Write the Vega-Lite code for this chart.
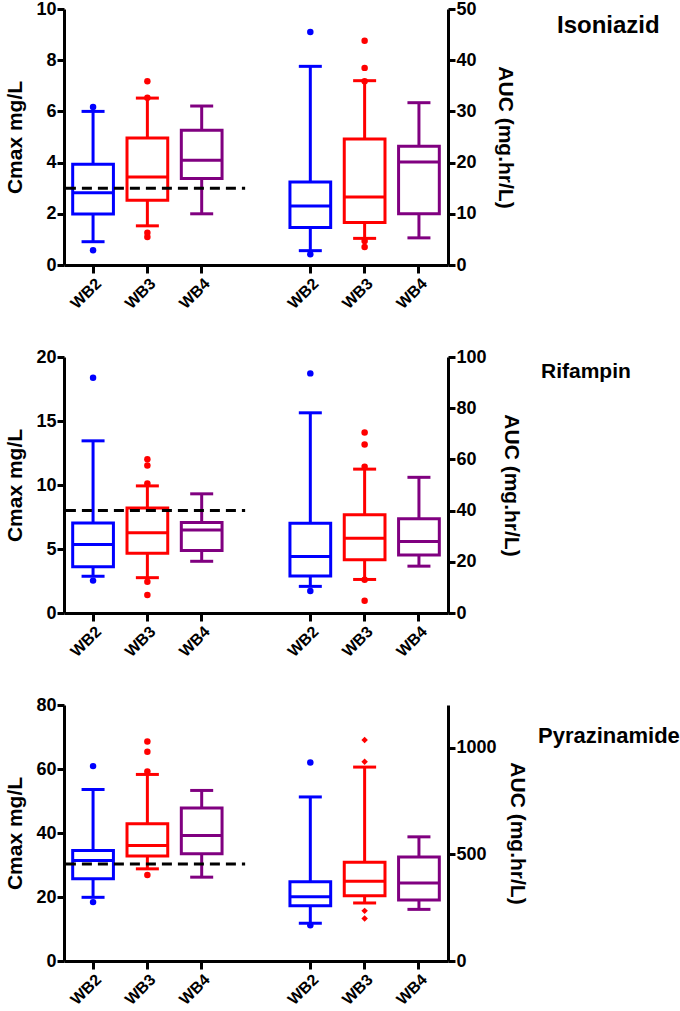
{
  "$schema": "https://vega.github.io/schema/vega-lite/v6.json",
  "padding": {"left": 4, "top": 0, "right": 0, "bottom": 0},
  "background": "white",
  "bounds": "flush",
  "spacing": 92,
  "datasets": {
    "main": [
      {"drug": "Isoniazid", "measure": "Cmax", "group": "WB2", "kind": "box", "lower": 0.91, "q1": 1.99, "median": 2.82, "q3": 3.94, "upper": 6.0},
      {"drug": "Isoniazid", "measure": "Cmax", "group": "WB3", "kind": "box", "lower": 1.53, "q1": 2.53, "median": 3.44, "q3": 4.96, "upper": 6.52},
      {"drug": "Isoniazid", "measure": "Cmax", "group": "WB4", "kind": "box", "lower": 2.0, "q1": 3.38, "median": 4.09, "q3": 5.26, "upper": 6.21},
      {"drug": "Isoniazid", "measure": "AUC", "group": "WB2", "kind": "box", "lower": 2.8, "q1": 7.3, "median": 11.5, "q3": 16.2, "upper": 38.8},
      {"drug": "Isoniazid", "measure": "AUC", "group": "WB3", "kind": "box", "lower": 5.2, "q1": 8.3, "median": 13.3, "q3": 24.6, "upper": 36.0},
      {"drug": "Isoniazid", "measure": "AUC", "group": "WB4", "kind": "box", "lower": 5.3, "q1": 10.0, "median": 20.1, "q3": 23.2, "upper": 31.7},
      {"drug": "Rifampin", "measure": "Cmax", "group": "WB2", "kind": "box", "lower": 2.87, "q1": 3.62, "median": 5.35, "q3": 7.04, "upper": 13.45},
      {"drug": "Rifampin", "measure": "Cmax", "group": "WB3", "kind": "box", "lower": 2.76, "q1": 4.67, "median": 6.26, "q3": 8.21, "upper": 9.93},
      {"drug": "Rifampin", "measure": "Cmax", "group": "WB4", "kind": "box", "lower": 4.04, "q1": 4.88, "median": 6.49, "q3": 7.07, "upper": 9.31},
      {"drug": "Rifampin", "measure": "AUC", "group": "WB2", "kind": "box", "lower": 10.4, "q1": 14.5, "median": 22.1, "q3": 35.1, "upper": 78.2},
      {"drug": "Rifampin", "measure": "AUC", "group": "WB3", "kind": "box", "lower": 13.1, "q1": 20.8, "median": 29.2, "q3": 38.4, "upper": 56.2},
      {"drug": "Rifampin", "measure": "AUC", "group": "WB4", "kind": "box", "lower": 18.3, "q1": 22.7, "median": 27.9, "q3": 36.8, "upper": 53.0},
      {"drug": "Pyrazinamide", "measure": "Cmax", "group": "WB2", "kind": "box", "lower": 19.9, "q1": 25.7, "median": 31.4, "q3": 34.5, "upper": 53.6},
      {"drug": "Pyrazinamide", "measure": "Cmax", "group": "WB3", "kind": "box", "lower": 28.8, "q1": 32.8, "median": 36.1, "q3": 42.9, "upper": 58.3},
      {"drug": "Pyrazinamide", "measure": "Cmax", "group": "WB4", "kind": "box", "lower": 26.2, "q1": 33.5, "median": 39.2, "q3": 47.8, "upper": 53.3},
      {"drug": "Pyrazinamide", "measure": "AUC", "group": "WB2", "kind": "box", "lower": 177, "q1": 259, "median": 301, "q3": 372, "upper": 769},
      {"drug": "Pyrazinamide", "measure": "AUC", "group": "WB3", "kind": "box", "lower": 272, "q1": 306, "median": 374, "q3": 463, "upper": 909},
      {"drug": "Pyrazinamide", "measure": "AUC", "group": "WB4", "kind": "box", "lower": 242, "q1": 286, "median": 366, "q3": 487, "upper": 582},
      {"drug": "Isoniazid", "measure": "Cmax", "group": "WB2", "kind": "outlier", "value": 6.17},
      {"drug": "Isoniazid", "measure": "Cmax", "group": "WB2", "kind": "outlier", "value": 0.58},
      {"drug": "Isoniazid", "measure": "Cmax", "group": "WB3", "kind": "outlier", "value": 7.18},
      {"drug": "Isoniazid", "measure": "Cmax", "group": "WB3", "kind": "outlier", "value": 6.53},
      {"drug": "Isoniazid", "measure": "Cmax", "group": "WB3", "kind": "outlier", "value": 1.26},
      {"drug": "Isoniazid", "measure": "Cmax", "group": "WB3", "kind": "outlier", "value": 1.09},
      {"drug": "Isoniazid", "measure": "AUC", "group": "WB2", "kind": "outlier", "value": 45.5},
      {"drug": "Isoniazid", "measure": "AUC", "group": "WB2", "kind": "outlier", "value": 2.1},
      {"drug": "Isoniazid", "measure": "AUC", "group": "WB3", "kind": "outlier", "value": 43.8},
      {"drug": "Isoniazid", "measure": "AUC", "group": "WB3", "kind": "outlier", "value": 38.5},
      {"drug": "Isoniazid", "measure": "AUC", "group": "WB3", "kind": "outlier", "value": 35.9},
      {"drug": "Isoniazid", "measure": "AUC", "group": "WB3", "kind": "outlier", "value": 4.7},
      {"drug": "Isoniazid", "measure": "AUC", "group": "WB3", "kind": "outlier", "value": 3.5},
      {"drug": "Rifampin", "measure": "Cmax", "group": "WB2", "kind": "outlier", "value": 18.38},
      {"drug": "Rifampin", "measure": "Cmax", "group": "WB2", "kind": "outlier", "value": 2.53},
      {"drug": "Rifampin", "measure": "Cmax", "group": "WB3", "kind": "outlier", "value": 12.02},
      {"drug": "Rifampin", "measure": "Cmax", "group": "WB3", "kind": "outlier", "value": 11.53},
      {"drug": "Rifampin", "measure": "Cmax", "group": "WB3", "kind": "outlier", "value": 10.12},
      {"drug": "Rifampin", "measure": "Cmax", "group": "WB3", "kind": "outlier", "value": 2.45},
      {"drug": "Rifampin", "measure": "Cmax", "group": "WB3", "kind": "outlier", "value": 1.41},
      {"drug": "Rifampin", "measure": "AUC", "group": "WB2", "kind": "outlier", "value": 93.6},
      {"drug": "Rifampin", "measure": "AUC", "group": "WB2", "kind": "outlier", "value": 8.6},
      {"drug": "Rifampin", "measure": "AUC", "group": "WB3", "kind": "outlier", "value": 70.5},
      {"drug": "Rifampin", "measure": "AUC", "group": "WB3", "kind": "outlier", "value": 65.8},
      {"drug": "Rifampin", "measure": "AUC", "group": "WB3", "kind": "outlier", "value": 57.1},
      {"drug": "Rifampin", "measure": "AUC", "group": "WB3", "kind": "outlier", "value": 13.0},
      {"drug": "Rifampin", "measure": "AUC", "group": "WB3", "kind": "outlier", "value": 4.8},
      {"drug": "Pyrazinamide", "measure": "Cmax", "group": "WB2", "kind": "outlier", "value": 60.9},
      {"drug": "Pyrazinamide", "measure": "Cmax", "group": "WB2", "kind": "outlier", "value": 18.4},
      {"drug": "Pyrazinamide", "measure": "Cmax", "group": "WB3", "kind": "outlier", "value": 68.6},
      {"drug": "Pyrazinamide", "measure": "Cmax", "group": "WB3", "kind": "outlier", "value": 65.4},
      {"drug": "Pyrazinamide", "measure": "Cmax", "group": "WB3", "kind": "outlier", "value": 59.2},
      {"drug": "Pyrazinamide", "measure": "Cmax", "group": "WB3", "kind": "outlier", "value": 26.9},
      {"drug": "Pyrazinamide", "measure": "AUC", "group": "WB2", "kind": "outlier", "value": 931},
      {"drug": "Pyrazinamide", "measure": "AUC", "group": "WB2", "kind": "outlier", "value": 168},
      {"drug": "Pyrazinamide", "measure": "AUC", "group": "WB3", "kind": "outlier", "value": 1036},
      {"drug": "Pyrazinamide", "measure": "AUC", "group": "WB3", "kind": "outlier", "value": 934},
      {"drug": "Pyrazinamide", "measure": "AUC", "group": "WB3", "kind": "outlier", "value": 235},
      {"drug": "Pyrazinamide", "measure": "AUC", "group": "WB3", "kind": "outlier", "value": 199}
    ],
    "refs": [
      {"drug": "Isoniazid", "value": 3},
      {"drug": "Rifampin", "value": 8},
      {"drug": "Pyrazinamide", "value": 30.3}
    ]
  },
  "vconcat": [
    {
      "width": 384, "height": 256,
      "title": {"text": "Isoniazid", "anchor": "start", "frame": "group", "offset": 0, "baseline": "middle", "dx": 493, "dy": 50, "fontSize": 24},
      "data": {"name": "main"},
      "transform": [{"filter": "datum.drug == 'Isoniazid'"}, {"calculate": "datum.measure + ' ' + datum.group", "as": "slot"}],
      "encoding": {
        "x": {"field": "slot", "type": "nominal",
          "scale": {"type": "band", "domain": ["Cmax WB2", "Cmax WB3", "Cmax WB4", "gap", "AUC WB2", "AUC WB3", "AUC WB4"], "paddingInner": 0, "paddingOuter": 0.035},
          "axis": {"values": ["Cmax WB2", "Cmax WB3", "Cmax WB4", "AUC WB2", "AUC WB3", "AUC WB4"], "labelExpr": "split(datum.value, ' ')[1]", "labelAngle": -45, "labelFontSize": 16, "tickSize": 8, "labelPadding": 2, "title": null}}
      },
      "layer": [
        {
          "transform": [{"filter": "datum.measure == 'Cmax'"}],
          "encoding": {"color": {"field": "group", "type": "nominal", "scale": {"domain": ["WB2", "WB3", "WB4"], "range": ["#0000FF", "#FF0000", "#800080"]}, "legend": null}},
          "layer": [
            {"mark": {"type": "rule", "strokeWidth": 3}, "transform": [{"filter": "datum.kind == 'box'"}],
             "encoding": {"y": {"field": "lower", "type": "quantitative", "title": "Cmax mg/L", "scale": {"domain": [0, 10], "nice": false}, "axis": {"orient": "left", "values": [0, 2, 4, 6, 8, 10]}}, "y2": {"field": "q1"}}},
            {"mark": {"type": "rule", "strokeWidth": 3}, "transform": [{"filter": "datum.kind == 'box'"}],
             "encoding": {"y": {"field": "q3", "type": "quantitative", "title": "Cmax mg/L"}, "y2": {"field": "upper"}}},
            {"mark": {"type": "bar", "filled": false, "strokeWidth": 3, "width": {"band": 0.75}}, "transform": [{"filter": "datum.kind == 'box'"}],
             "encoding": {"y": {"field": "q1", "type": "quantitative", "title": "Cmax mg/L"}, "y2": {"field": "q3"}}},
            {"mark": {"type": "tick", "thickness": 3, "size": 41, "opacity": 1}, "transform": [{"filter": "datum.kind == 'box'"}],
             "encoding": {"y": {"field": "median", "type": "quantitative", "title": "Cmax mg/L"}}},
            {"mark": {"type": "tick", "thickness": 3, "size": 23, "opacity": 1}, "transform": [{"filter": "datum.kind == 'box'"}],
             "encoding": {"y": {"field": "upper", "type": "quantitative", "title": "Cmax mg/L"}}},
            {"mark": {"type": "tick", "thickness": 3, "size": 23, "opacity": 1}, "transform": [{"filter": "datum.kind == 'box'"}],
             "encoding": {"y": {"field": "lower", "type": "quantitative", "title": "Cmax mg/L"}}},
            {"mark": {"type": "point", "filled": true, "size": 42, "opacity": 1}, "transform": [{"filter": "datum.kind == 'outlier'"}],
             "encoding": {"y": {"field": "value", "type": "quantitative", "title": "Cmax mg/L"}}},
            {"data": {"name": "refs"}, "transform": [{"filter": "datum.drug == 'Isoniazid'"}],
             "mark": {"type": "rule", "strokeWidth": 3, "strokeDash": [10, 6], "color": "black"},
             "encoding": {"x": {"datum": "Cmax WB2", "bandPosition": 0}, "x2": {"datum": "gap", "bandPosition": 0.3}, "y": {"field": "value", "type": "quantitative", "title": "Cmax mg/L"}, "color": {"value": "black"}}}
          ]
        },
        {
          "transform": [{"filter": "datum.measure == 'AUC'"}],
          "encoding": {"color": {"field": "group", "type": "nominal", "scale": {"domain": ["WB2", "WB3", "WB4"], "range": ["#0000FF", "#FF0000", "#800080"]}, "legend": null}},
          "layer": [
            {"mark": {"type": "rule", "strokeWidth": 3}, "transform": [{"filter": "datum.kind == 'box'"}],
             "encoding": {"y": {"field": "lower", "type": "quantitative", "title": "AUC (mg.hr/L)", "scale": {"domain": [0, 50], "nice": false}, "axis": {"orient": "right", "values": [0, 10, 20, 30, 40, 50], "titlePadding": 18}}, "y2": {"field": "q1"}}},
            {"mark": {"type": "rule", "strokeWidth": 3}, "transform": [{"filter": "datum.kind == 'box'"}],
             "encoding": {"y": {"field": "q3", "type": "quantitative", "title": "AUC (mg.hr/L)"}, "y2": {"field": "upper"}}},
            {"mark": {"type": "bar", "filled": false, "strokeWidth": 3, "width": {"band": 0.75}}, "transform": [{"filter": "datum.kind == 'box'"}],
             "encoding": {"y": {"field": "q1", "type": "quantitative", "title": "AUC (mg.hr/L)"}, "y2": {"field": "q3"}}},
            {"mark": {"type": "tick", "thickness": 3, "size": 41, "opacity": 1}, "transform": [{"filter": "datum.kind == 'box'"}],
             "encoding": {"y": {"field": "median", "type": "quantitative", "title": "AUC (mg.hr/L)"}}},
            {"mark": {"type": "tick", "thickness": 3, "size": 23, "opacity": 1}, "transform": [{"filter": "datum.kind == 'box'"}],
             "encoding": {"y": {"field": "upper", "type": "quantitative", "title": "AUC (mg.hr/L)"}}},
            {"mark": {"type": "tick", "thickness": 3, "size": 23, "opacity": 1}, "transform": [{"filter": "datum.kind == 'box'"}],
             "encoding": {"y": {"field": "lower", "type": "quantitative", "title": "AUC (mg.hr/L)"}}},
            {"mark": {"type": "point", "filled": true, "size": 42, "opacity": 1}, "transform": [{"filter": "datum.kind == 'outlier'"}],
             "encoding": {"y": {"field": "value", "type": "quantitative", "title": "AUC (mg.hr/L)"}}}
          ]
        }
      ],
      "resolve": {"scale": {"y": "independent"}, "axis": {"y": "independent"}}
    },
    {
      "width": 384, "height": 256,
      "title": {"text": "Rifampin", "anchor": "start", "frame": "group", "offset": 0, "baseline": "middle", "dx": 477, "dy": 45, "fontSize": 21},
      "data": {"name": "main"},
      "transform": [{"filter": "datum.drug == 'Rifampin'"}, {"calculate": "datum.measure + ' ' + datum.group", "as": "slot"}],
      "encoding": {
        "x": {"field": "slot", "type": "nominal",
          "scale": {"type": "band", "domain": ["Cmax WB2", "Cmax WB3", "Cmax WB4", "gap", "AUC WB2", "AUC WB3", "AUC WB4"], "paddingInner": 0, "paddingOuter": 0.035},
          "axis": {"values": ["Cmax WB2", "Cmax WB3", "Cmax WB4", "AUC WB2", "AUC WB3", "AUC WB4"], "labelExpr": "split(datum.value, ' ')[1]", "labelAngle": -45, "labelFontSize": 16, "tickSize": 8, "labelPadding": 2, "title": null}}
      },
      "layer": [
        {
          "transform": [{"filter": "datum.measure == 'Cmax'"}],
          "encoding": {"color": {"field": "group", "type": "nominal", "scale": {"domain": ["WB2", "WB3", "WB4"], "range": ["#0000FF", "#FF0000", "#800080"]}, "legend": null}},
          "layer": [
            {"mark": {"type": "rule", "strokeWidth": 3}, "transform": [{"filter": "datum.kind == 'box'"}],
             "encoding": {"y": {"field": "lower", "type": "quantitative", "title": "Cmax mg/L", "scale": {"domain": [0, 20], "nice": false}, "axis": {"orient": "left", "values": [0, 5, 10, 15, 20]}}, "y2": {"field": "q1"}}},
            {"mark": {"type": "rule", "strokeWidth": 3}, "transform": [{"filter": "datum.kind == 'box'"}],
             "encoding": {"y": {"field": "q3", "type": "quantitative", "title": "Cmax mg/L"}, "y2": {"field": "upper"}}},
            {"mark": {"type": "bar", "filled": false, "strokeWidth": 3, "width": {"band": 0.75}}, "transform": [{"filter": "datum.kind == 'box'"}],
             "encoding": {"y": {"field": "q1", "type": "quantitative", "title": "Cmax mg/L"}, "y2": {"field": "q3"}}},
            {"mark": {"type": "tick", "thickness": 3, "size": 41, "opacity": 1}, "transform": [{"filter": "datum.kind == 'box'"}],
             "encoding": {"y": {"field": "median", "type": "quantitative", "title": "Cmax mg/L"}}},
            {"mark": {"type": "tick", "thickness": 3, "size": 23, "opacity": 1}, "transform": [{"filter": "datum.kind == 'box'"}],
             "encoding": {"y": {"field": "upper", "type": "quantitative", "title": "Cmax mg/L"}}},
            {"mark": {"type": "tick", "thickness": 3, "size": 23, "opacity": 1}, "transform": [{"filter": "datum.kind == 'box'"}],
             "encoding": {"y": {"field": "lower", "type": "quantitative", "title": "Cmax mg/L"}}},
            {"mark": {"type": "point", "filled": true, "size": 42, "opacity": 1}, "transform": [{"filter": "datum.kind == 'outlier'"}],
             "encoding": {"y": {"field": "value", "type": "quantitative", "title": "Cmax mg/L"}}},
            {"data": {"name": "refs"}, "transform": [{"filter": "datum.drug == 'Rifampin'"}],
             "mark": {"type": "rule", "strokeWidth": 3, "strokeDash": [10, 6], "color": "black"},
             "encoding": {"x": {"datum": "Cmax WB2", "bandPosition": 0}, "x2": {"datum": "gap", "bandPosition": 0.3}, "y": {"field": "value", "type": "quantitative", "title": "Cmax mg/L"}, "color": {"value": "black"}}}
          ]
        },
        {
          "transform": [{"filter": "datum.measure == 'AUC'"}],
          "encoding": {"color": {"field": "group", "type": "nominal", "scale": {"domain": ["WB2", "WB3", "WB4"], "range": ["#0000FF", "#FF0000", "#800080"]}, "legend": null}},
          "layer": [
            {"mark": {"type": "rule", "strokeWidth": 3}, "transform": [{"filter": "datum.kind == 'box'"}],
             "encoding": {"y": {"field": "lower", "type": "quantitative", "title": "AUC (mg.hr/L)", "scale": {"domain": [0, 100], "nice": false}, "axis": {"orient": "right", "values": [0, 20, 40, 60, 80, 100], "titlePadding": 14}}, "y2": {"field": "q1"}}},
            {"mark": {"type": "rule", "strokeWidth": 3}, "transform": [{"filter": "datum.kind == 'box'"}],
             "encoding": {"y": {"field": "q3", "type": "quantitative", "title": "AUC (mg.hr/L)"}, "y2": {"field": "upper"}}},
            {"mark": {"type": "bar", "filled": false, "strokeWidth": 3, "width": {"band": 0.75}}, "transform": [{"filter": "datum.kind == 'box'"}],
             "encoding": {"y": {"field": "q1", "type": "quantitative", "title": "AUC (mg.hr/L)"}, "y2": {"field": "q3"}}},
            {"mark": {"type": "tick", "thickness": 3, "size": 41, "opacity": 1}, "transform": [{"filter": "datum.kind == 'box'"}],
             "encoding": {"y": {"field": "median", "type": "quantitative", "title": "AUC (mg.hr/L)"}}},
            {"mark": {"type": "tick", "thickness": 3, "size": 23, "opacity": 1}, "transform": [{"filter": "datum.kind == 'box'"}],
             "encoding": {"y": {"field": "upper", "type": "quantitative", "title": "AUC (mg.hr/L)"}}},
            {"mark": {"type": "tick", "thickness": 3, "size": 23, "opacity": 1}, "transform": [{"filter": "datum.kind == 'box'"}],
             "encoding": {"y": {"field": "lower", "type": "quantitative", "title": "AUC (mg.hr/L)"}}},
            {"mark": {"type": "point", "filled": true, "size": 42, "opacity": 1}, "transform": [{"filter": "datum.kind == 'outlier'"}],
             "encoding": {"y": {"field": "value", "type": "quantitative", "title": "AUC (mg.hr/L)"}}}
          ]
        }
      ],
      "resolve": {"scale": {"y": "independent"}, "axis": {"y": "independent"}}
    },
    {
      "width": 384, "height": 256,
      "title": {"text": "Pyrazinamide", "anchor": "start", "frame": "group", "offset": 0, "baseline": "middle", "dx": 474, "dy": 62, "fontSize": 22},
      "data": {"name": "main"},
      "transform": [{"filter": "datum.drug == 'Pyrazinamide'"}, {"calculate": "datum.measure + ' ' + datum.group", "as": "slot"}],
      "encoding": {
        "x": {"field": "slot", "type": "nominal",
          "scale": {"type": "band", "domain": ["Cmax WB2", "Cmax WB3", "Cmax WB4", "gap", "AUC WB2", "AUC WB3", "AUC WB4"], "paddingInner": 0, "paddingOuter": 0.035},
          "axis": {"values": ["Cmax WB2", "Cmax WB3", "Cmax WB4", "AUC WB2", "AUC WB3", "AUC WB4"], "labelExpr": "split(datum.value, ' ')[1]", "labelAngle": -45, "labelFontSize": 16, "tickSize": 8, "labelPadding": 2, "title": null}}
      },
      "layer": [
        {
          "transform": [{"filter": "datum.measure == 'Cmax'"}],
          "encoding": {"color": {"field": "group", "type": "nominal", "scale": {"domain": ["WB2", "WB3", "WB4"], "range": ["#0000FF", "#FF0000", "#800080"]}, "legend": null}},
          "layer": [
            {"mark": {"type": "rule", "strokeWidth": 3}, "transform": [{"filter": "datum.kind == 'box'"}],
             "encoding": {"y": {"field": "lower", "type": "quantitative", "title": "Cmax mg/L", "scale": {"domain": [0, 80], "nice": false}, "axis": {"orient": "left", "values": [0, 20, 40, 60, 80]}}, "y2": {"field": "q1"}}},
            {"mark": {"type": "rule", "strokeWidth": 3}, "transform": [{"filter": "datum.kind == 'box'"}],
             "encoding": {"y": {"field": "q3", "type": "quantitative", "title": "Cmax mg/L"}, "y2": {"field": "upper"}}},
            {"mark": {"type": "bar", "filled": false, "strokeWidth": 3, "width": {"band": 0.75}}, "transform": [{"filter": "datum.kind == 'box'"}],
             "encoding": {"y": {"field": "q1", "type": "quantitative", "title": "Cmax mg/L"}, "y2": {"field": "q3"}}},
            {"mark": {"type": "tick", "thickness": 3, "size": 41, "opacity": 1}, "transform": [{"filter": "datum.kind == 'box'"}],
             "encoding": {"y": {"field": "median", "type": "quantitative", "title": "Cmax mg/L"}}},
            {"mark": {"type": "tick", "thickness": 3, "size": 23, "opacity": 1}, "transform": [{"filter": "datum.kind == 'box'"}],
             "encoding": {"y": {"field": "upper", "type": "quantitative", "title": "Cmax mg/L"}}},
            {"mark": {"type": "tick", "thickness": 3, "size": 23, "opacity": 1}, "transform": [{"filter": "datum.kind == 'box'"}],
             "encoding": {"y": {"field": "lower", "type": "quantitative", "title": "Cmax mg/L"}}},
            {"mark": {"type": "point", "filled": true, "size": 42, "opacity": 1}, "transform": [{"filter": "datum.kind == 'outlier'"}],
             "encoding": {"y": {"field": "value", "type": "quantitative", "title": "Cmax mg/L"}}},
            {"data": {"name": "refs"}, "transform": [{"filter": "datum.drug == 'Pyrazinamide'"}],
             "mark": {"type": "rule", "strokeWidth": 3, "strokeDash": [10, 6], "color": "black"},
             "encoding": {"x": {"datum": "Cmax WB2", "bandPosition": 0}, "x2": {"datum": "gap", "bandPosition": 0.3}, "y": {"field": "value", "type": "quantitative", "title": "Cmax mg/L"}, "color": {"value": "black"}}}
          ]
        },
        {
          "transform": [{"filter": "datum.measure == 'AUC'"}],
          "encoding": {"color": {"field": "group", "type": "nominal", "scale": {"domain": ["WB2", "WB3", "WB4"], "range": ["#0000FF", "#FF0000", "#800080"]}, "legend": null}},
          "layer": [
            {"mark": {"type": "rule", "strokeWidth": 3}, "transform": [{"filter": "datum.kind == 'box'"}],
             "encoding": {"y": {"field": "lower", "type": "quantitative", "title": "AUC (mg.hr/L)", "scale": {"domain": [0, 1200], "nice": false}, "axis": {"orient": "right", "values": [0, 500, 1000], "format": "d", "titlePadding": 10}}, "y2": {"field": "q1"}}},
            {"mark": {"type": "rule", "strokeWidth": 3}, "transform": [{"filter": "datum.kind == 'box'"}],
             "encoding": {"y": {"field": "q3", "type": "quantitative", "title": "AUC (mg.hr/L)"}, "y2": {"field": "upper"}}},
            {"mark": {"type": "bar", "filled": false, "strokeWidth": 3, "width": {"band": 0.75}}, "transform": [{"filter": "datum.kind == 'box'"}],
             "encoding": {"y": {"field": "q1", "type": "quantitative", "title": "AUC (mg.hr/L)"}, "y2": {"field": "q3"}}},
            {"mark": {"type": "tick", "thickness": 3, "size": 41, "opacity": 1}, "transform": [{"filter": "datum.kind == 'box'"}],
             "encoding": {"y": {"field": "median", "type": "quantitative", "title": "AUC (mg.hr/L)"}}},
            {"mark": {"type": "tick", "thickness": 3, "size": 23, "opacity": 1}, "transform": [{"filter": "datum.kind == 'box'"}],
             "encoding": {"y": {"field": "upper", "type": "quantitative", "title": "AUC (mg.hr/L)"}}},
            {"mark": {"type": "tick", "thickness": 3, "size": 23, "opacity": 1}, "transform": [{"filter": "datum.kind == 'box'"}],
             "encoding": {"y": {"field": "lower", "type": "quantitative", "title": "AUC (mg.hr/L)"}}},
            {"mark": {"type": "point", "filled": true, "size": 42, "opacity": 1}, "transform": [{"filter": "datum.kind == 'outlier'"}],
             "encoding": {"y": {"field": "value", "type": "quantitative", "title": "AUC (mg.hr/L)"},
               "shape": {"condition": {"test": "datum.group == 'WB3'", "value": "diamond"}, "value": "circle"}}}
          ]
        }
      ],
      "resolve": {"scale": {"y": "independent"}, "axis": {"y": "independent"}}
    }
  ],
  "config": {
    "view": {"stroke": null},
    "font": "Liberation Sans",
    "title": {"font": "Liberation Sans", "fontWeight": "bold", "color": "black"},
    "axis": {
      "grid": false,
      "domainColor": "black", "domainWidth": 3,
      "tickColor": "black", "tickWidth": 3, "tickSize": 7,
      "labelFont": "Liberation Sans", "labelFontWeight": "bold", "labelFontSize": 18, "labelColor": "black", "labelPadding": 1,
      "titleFont": "Liberation Sans", "titleFontWeight": "bold", "titleFontSize": 21, "titleColor": "black", "titlePadding": 10
    }
  }
}
